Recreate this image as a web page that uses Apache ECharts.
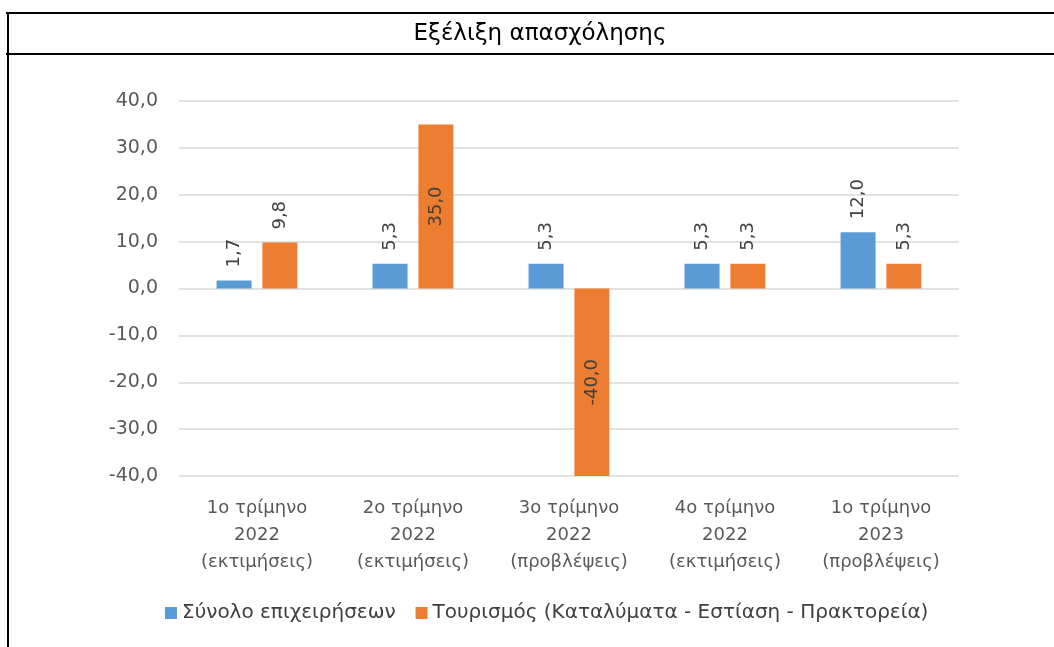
<!DOCTYPE html>
<html>
<head>
<meta charset="utf-8">
<script src="https://cdn.jsdelivr.net/npm/echarts@6/dist/echarts.min.js"></script>
<style>
  html, body { margin: 0; padding: 0; background: #fff; }
  #chart { width: 1054px; height: 647px; }
</style>
</head>
<body>
<div id="chart"></div>
<script>
// categories (quarters)
var categories = [
    '1ο τρίμηνο\n2022\n(εκτιμήσεις)',
    '2ο τρίμηνο\n2022\n(εκτιμήσεις)',
    '3ο τρίμηνο\n2022\n(προβλέψεις)',
    '4ο τρίμηνο\n2022\n(εκτιμήσεις)',
    '1ο τρίμηνο\n2023\n(προβλέψεις)'
];
var seriesNames = ['Σύνολο επιχειρήσεων', 'Τουρισμός (Καταλύματα - Εστίαση - Πρακτορεία)'];
var totalValues = [1.7, 5.3, 5.3, 5.3, 12.0];
var tourismValues = [9.8, 35.0, -40.0, 5.3, 5.3];
var titleText = 'Εξέλιξη απασχόλησης';

var labelFont = 'DejaVu Sans, Verdana, sans-serif';

function fmt(v) {
    return Number(v).toFixed(1).replace('.', ',');
}

// label goes above the bar; long bars near the axis ends get it centred inside
function toData(arr) {
    return arr.map(function (v) {
        if (Math.abs(v) > 30) {
            return { value: v, label: { position: 'inside', align: 'center', verticalAlign: 'middle' } };
        }
        return v;
    });
}

var barLabel = {
    show: true,
    position: 'top',
    rotate: 90,
    align: 'left',
    verticalAlign: 'middle',
    distance: 13,
    color: '#404040',
    fontSize: 18,
    fontFamily: labelFont,
    formatter: function (p) { return fmt(p.value); }
};

var chart = echarts.init(document.getElementById('chart'));

chart.setOption({
    animation: false,
    textStyle: { fontFamily: labelFont },
    graphic: [
        { type: 'line', shape: { x1: 6, y1: 13, x2: 1054, y2: 13 }, style: { stroke: '#000', lineWidth: 2 } },
        { type: 'line', shape: { x1: 6, y1: 54, x2: 1054, y2: 54 }, style: { stroke: '#000', lineWidth: 2 } },
        { type: 'line', shape: { x1: 8, y1: 12, x2: 8, y2: 647 }, style: { stroke: '#000', lineWidth: 2 } },
        {
            type: 'text', x: 540, y: 34,
            style: {
                text: titleText, textAlign: 'center', textVerticalAlign: 'middle',
                fontSize: 23, fontFamily: 'DejaVu Sans', fill: '#000'
            }
        }
    ],
    legend: {
        data: seriesNames,
        left: 160,
        top: 598,
        icon: 'rect',
        itemWidth: 12,
        itemHeight: 12,
        itemGap: 20,
        textStyle: { color: '#404040', fontSize: 20, fontFamily: labelFont }
    },
    grid: {
        left: 179,
        right: 95,
        top: 101,
        bottom: 171
    },
    xAxis: {
        type: 'category',
        data: categories,
        axisLine: { show: false, onZero: false },
        axisTick: { show: false },
        axisLabel: {
            interval: 0,
            hideOverlap: false,
            color: '#595959',
            fontSize: 18,
            lineHeight: 27,
            margin: 19,
            fontFamily: labelFont
        }
    },
    yAxis: {
        type: 'value',
        min: -40,
        max: 40,
        interval: 10,
        axisLine: { show: false },
        axisTick: { show: false },
        splitLine: { lineStyle: { color: '#d9d9d9', width: 1.5 } },
        axisLabel: {
            color: '#595959',
            fontSize: 19,
            margin: 21,
            fontFamily: labelFont,
            formatter: fmt
        }
    },
    series: [{
        name: seriesNames[0],
        type: 'bar',
        data: toData(totalValues),
        barWidth: 35,
        barGap: '31%',
        itemStyle: { color: '#5b9bd5' },
        label: barLabel
    }, {
        name: seriesNames[1],
        type: 'bar',
        data: toData(tourismValues),
        barWidth: 35,
        itemStyle: { color: '#ed7d31' },
        label: barLabel
    }]
});
</script>
</body>
</html>
